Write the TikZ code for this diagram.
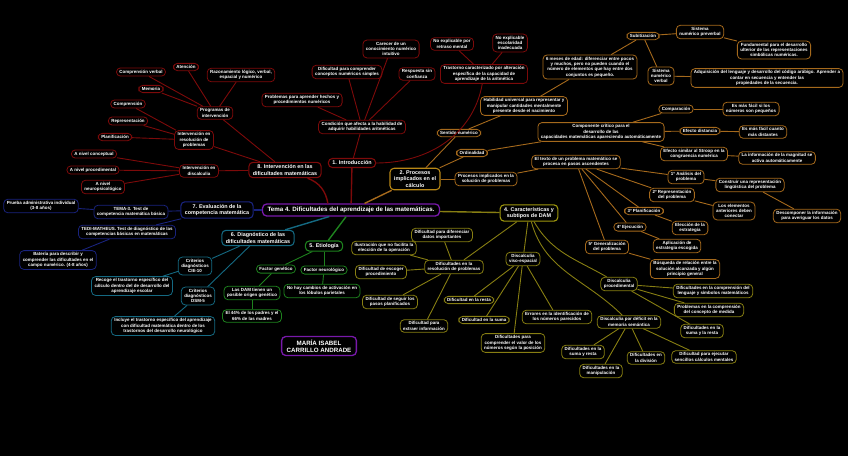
\documentclass[tikz,border=0pt]{standalone}
\usepackage{fontspec}
\setmainfont{Liberation Sans}
\definecolor{mapred}{RGB}{125, 10, 10}
\definecolor{maporange}{RGB}{165, 105, 28}
\definecolor{mapyellow}{RGB}{135, 126, 18}
\definecolor{mapgreen}{RGB}{30, 130, 30}
\definecolor{mapteal}{RGB}{20, 105, 130}
\definecolor{mapblue}{RGB}{25, 35, 125}
\definecolor{mappurple}{RGB}{120, 25, 170}

\begin{document}
\begin{tikzpicture}[
    x=1pt, y=-1pt,
    leaf/.style={rectangle, rounded corners=4pt, fill=black, text=white, align=center, inner xsep=3pt, inner ysep=2pt, line width=0.8pt, font=\fontsize{4.45}{5.3}\selectfont\bfseries},
    branch/.style={leaf, line width=1.1pt, inner xsep=4pt, inner ysep=2.5pt, font=\fontsize{5.4}{6.3}\selectfont\bfseries},
    redleaf/.style={leaf, draw=mapred},
    orangeleaf/.style={leaf, draw=maporange},
    yellowleaf/.style={leaf, draw=mapyellow},
    greenleaf/.style={leaf, draw=mapgreen},
    tealleaf/.style={leaf, draw=mapteal},
    blueleaf/.style={leaf, draw=mapblue},
    redbranch/.style={branch, draw=mapred},
    orangebranch/.style={branch, draw=maporange!80!yellow},
    yellowbranch/.style={branch, draw=mapyellow!80!yellow},
    greenbranch/.style={branch, draw=mapgreen},
    tealbranch/.style={branch, draw=mapteal},
    bluebranch/.style={branch, draw=mapblue},
    topic/.style={leaf, draw=mappurple, line width=1.3pt, inner xsep=5pt, inner ysep=3pt, font=\fontsize{6.2}{7.3}\selectfont\bfseries},
    redline/.style={mapred, line width=0.9pt},
    orangeline/.style={maporange, line width=0.9pt},
    yellowline/.style={mapyellow, line width=0.9pt},
    greenline/.style={mapgreen, line width=0.9pt},
    tealline/.style={mapteal, line width=0.9pt},
    blueline/.style={mapblue, line width=0.9pt},
    mainline/.style={line width=1.4pt}
]

\fill[black] (0,0) rectangle (848,456);
\useasboundingbox (0,0) rectangle (848,456);

% centre
\node (tema) [topic] at (351,210) {Tema 4. Dificultades del aprendizaje de las matemáticas.};
\node (autora) [topic] at (319,346) {MARÍA ISABEL\\CARRILLO ANDRADE};

% 1. Introducción
\node (intro) [redbranch] at (352,163) {1. Introducción};
\node (condicion) [redleaf] at (362,127) {Condición que afecta a la habilidad de\\adquirir habilidades aritméticas};
\node (hechos) [redleaf] at (302,100) {Problemas para aprender hechos y\\procedimientos numéricos};
\node (difcomp) [redleaf] at (347,72) {Dificultad para comprender\\conceptos numéricos simples};
\node (carecer) [redleaf] at (391,49) {Carecer de un\\conocimiento numérico\\intuitivo};
\node (respuesta) [redleaf] at (417,74) {Respuesta sin\\confianza};
\node (trastorno) [redleaf] at (484,74) {Trastorno caracterizado por alteración\\específica de la capacidad de\\aprendizaje de la aritmética};
\node (noretraso) [redleaf] at (452,44) {No explicable por\\retraso mental};
\node (noescolar) [redleaf] at (510,43) {No explicable\\escolaridad\\inadecuada};

% 8. Intervención
\node (interv) [redbranch] at (285,170) {8. Intervención en las\\dificultades matemáticas};
\node (programas) [redleaf] at (215,113) {Programas de\\intervención};
\node (compverbal) [redleaf] at (141,72) {Comprensión verbal};
\node (atencion) [redleaf] at (186,67) {Atención};
\node (razon) [redleaf] at (241,75) {Razonamiento lógico, verbal,\\espacial y numérico};
\node (memoria) [redleaf] at (151,89) {Memoria};
\node (intresol) [redleaf] at (194,140) {Intervención en\\resolución de\\problemas};
\node (compren) [redleaf] at (128,104) {Comprensión};
\node (repres) [redleaf] at (128,121) {Representación};
\node (planif) [redleaf] at (115,137) {Planificación};
\node (intdisc) [redleaf] at (199,171) {Intervención en\\discalculia};
\node (concept) [redleaf] at (94,154) {A nivel conceptual};
\node (procedim) [redleaf] at (93,170) {A nivel procedimental};
\node (neuro) [redleaf] at (103,187) {A nivel\\neuropsicológico};

% 2. Procesos implicados en el cálculo
\node (procesos) [orangebranch] at (415,179) {2. Procesos\\implicados en el\\cálculo};
\node (sentido) [orangeleaf] at (459,133) {Sentido numérico};
\node (ordinal) [orangeleaf] at (472,153) {Ordinalidad};
\node (procsol) [orangeleaf] at (486,179) {Procesos implicados en la\\solución de problemas};
\node (habilidad) [orangeleaf] at (524,106) {Habilidad universal para representar y\\manipular cantidades mentalmente\\presente desde el nacimiento};
\node (meses) [orangeleaf] at (590,67) {6 meses de edad: diferenciar entre pocos\\y muchos, pero no pueden cuando el\\número de elementos que hay entre dos\\conjuntos es pequeño.};
\node (subit) [orangeleaf] at (643,36) {Subitización};
\node (preverbal) [orangeleaf] at (700,32) {Sistema\\numérico preverbal};
\node (fundamental) [orangeleaf] at (774,50) {Fundamental para el desarrollo\\ulterior de las representaciones\\simbólicas numéricas.};
\node (sisverbal) [orangeleaf] at (661,76) {Sistema\\numérico\\verbal};
\node (adquis) [orangeleaf] at (767,78) {Adquisición del lenguaje y desarrollo del código arábigo. Aprender a\\contar en secuencia y entender las\\propiedades de la secuencia.};
\node (componente) [orangeleaf] at (601,132) {Componente crítico para el\\desarrollo de las\\capacidades matemáticas apareciendo automáticamente};
\node (comparacion) [orangeleaf] at (676,109) {Comparación};
\node (pequenos) [orangeleaf] at (751,109) {Es más fácil si los\\números son pequeños};
\node (distancia) [orangeleaf] at (700,131) {Efecto distancia};
\node (distantes) [orangeleaf] at (763,132) {Es más fácil cuanto\\más distantes};
\node (stroop) [orangeleaf] at (694,154) {Efecto similar al Stroop en la\\congruencia numérica};
\node (magnitud) [orangeleaf] at (777,158) {La información de la magnitud se\\activa automáticamente};
\node (texto) [orangeleaf] at (576,162) {El texto de un problema matemático se\\procesa en pasos ascendentes};
\node (analisis) [orangeleaf] at (686,177) {1º Análisis del\\problema};
\node (construir) [orangeleaf] at (750,185) {Construir una representación\\lingüística del problema};
\node (represent) [orangeleaf] at (672,195) {2º Representación\\del problema};
\node (elementos) [orangeleaf] at (734,211) {Los elementos\\anteriores deben\\conectar};
\node (descomp) [orangeleaf] at (807,216) {Descomponer la información\\para averiguar los datos};
\node (planific) [orangeleaf] at (644,211) {3º Planificación};
\node (eleccion) [orangeleaf] at (690,228) {Elección de la\\estrategia};
\node (ejecucion) [orangeleaf] at (630,227) {4º Ejecución};
\node (aplicacion) [orangeleaf] at (677,246) {Aplicación de\\estrategia escogida};
\node (generaliz) [orangeleaf] at (607,247) {5º Generalización\\del problema};
\node (busqueda) [orangeleaf] at (685,269) {Búsqueda de relación entre la\\solución alcanzada y algún\\principio general};

% 4. Características y subtipos de DAM
\node (subtipos) [yellowbranch] at (529,213) {4. Características y\\subtipos de DAM};
\node (resol) [yellowleaf] at (454,267) {Dificultades en la\\resolución de problemas};
\node (difdatos) [yellowleaf] at (442,235) {Dificultad para diferenciar\\datos importantes};
\node (ilustr) [yellowleaf] at (384,248) {Ilustración que no facilita la\\elección de la operación};
\node (escoger) [yellowleaf] at (381,272) {Dificultad de escoger\\procedimiento};
\node (seguir) [yellowleaf] at (390,302) {Dificultad de seguir los\\pasos planificados};
\node (extraer) [yellowleaf] at (424,326) {Dificultad para\\extraer información};
\node (viso) [yellowleaf] at (523,259) {Discalculia\\viso-espacial};
\node (resta) [yellowleaf] at (469,300) {Dificultad en la resta};
\node (suma) [yellowleaf] at (484,320) {Dificultad en la suma};
\node (errores) [yellowleaf] at (557,317) {Errores en la identificación de\\los números parecidos};
\node (valor) [yellowleaf] at (513,343) {Dificultades para\\comprender el valor de los\\números según la posición};
\node (proced) [yellowleaf] at (619,284) {Discalculia\\procedimental};
\node (lenguaje) [yellowleaf] at (713,291) {Dificultades en la comprensión del\\lenguaje y símbolos matemáticos};
\node (medida) [yellowleaf] at (709,310) {Problemas en la comprensión\\del concepto de medida};
\node (sumalaresta) [yellowleaf] at (702,331) {Dificultades en la\\suma y la resta};
\node (semantica) [yellowleaf] at (629,322) {Discalculia por déficit en la\\memoria semántica};
\node (sumaresta) [yellowleaf] at (583,352) {Dificultades en la\\suma y resta};
\node (division) [yellowleaf] at (646,358) {Dificultades en\\la división};
\node (mentales) [yellowleaf] at (704,357) {Dificultad para ejecutar\\sencillos cálculos mentales};
\node (manip) [yellowleaf] at (601,371) {Dificultades en la\\manipulación};

% 5. Etiología
\node (etiologia) [greenbranch] at (324,246) {5. Etiología};
\node (genetico) [greenleaf] at (276,269) {Factor genético};
\node (neurol) [greenleaf] at (324,270) {Factor neurológico};
\node (origen) [greenleaf] at (252,293) {Las DAM tienen un\\posible origen genético};
\node (lobulos) [greenleaf] at (322,291) {No hay cambios de activación en\\los lóbulos parietales};
\node (padres) [greenleaf] at (252,316) {El 44\% de los padres y el\\66\% de las madres};

% 6. Diagnóstico
\node (diagnostico) [tealbranch] at (258,238) {6. Diagnóstico de las\\dificultades matemáticas};
\node (cie) [tealleaf] at (195,266) {Criterios\\diagnósticos\\CIE-10};
\node (recoge) [tealleaf] at (132,286) {Recoge el trastorno específico del\\cálculo dentro del de desarrollo del\\aprendizaje escolar};
\node (dsm) [tealleaf] at (198,296) {Criterios\\diagnósticos\\DSM-5};
\node (incluye) [tealleaf] at (163,326) {Incluye el trastorno específico del aprendizaje\\con dificultad matemática dentro de los\\trastornos del desarrollo neurológico};

% 7. Evaluación
\node (evaluacion) [bluebranch] at (217,210) {7. Evaluación de la\\competencia matemática};
\node (tema3) [blueleaf] at (131,212) {TEMA-3. Test de\\competencia matemática básica};
\node (prueba) [blueleaf] at (41,206) {Prueba administrativa individual\\(3-8 años)};
\node (tedi) [blueleaf] at (127,232) {TEDI-MATHEUS. Test de diagnóstico de las\\competencias básicas en matemáticas};
\node (bateria) [blueleaf] at (58,260) {Batería para describir y\\comprender las dificultades en el\\campo numérico. (4-8 años)};

% main branches
\draw[redline, mainline] (tema) -- (intro);
\draw[redline, mainline] (tema.north west) ++(66,0) to[out=100,in=-20] (interv);
\draw[orangeline, mainline] (tema) -- (procesos);
\draw[yellowline, mainline] (tema) -- (subtipos);
\draw[greenline, mainline] (tema) -- (etiologia);
\draw[tealline, mainline] (tema) -- (diagnostico);
\draw[blueline, mainline] (tema) -- (evaluacion);

% 1
\draw[redline] (intro) -- (condicion);
\draw[redline] (intro) to[out=0,in=-100] (trastorno);
\draw[redline] (condicion) -- (hechos);
\draw[redline] (condicion) -- (difcomp);
\draw[redline] (condicion) -- (carecer);
\draw[redline] (condicion) -- (respuesta);
\draw[redline] (trastorno) -- (noretraso);
\draw[redline] (trastorno) -- (noescolar);

% 8
\draw[redline] (interv) -- (programas);
\draw[redline] (interv) -- (intresol);
\draw[redline] (interv) -- (intdisc);
\draw[redline] (programas) -- (compverbal);
\draw[redline] (programas) -- (atencion);
\draw[redline] (programas) -- (razon);
\draw[redline] (programas) -- (memoria);
\draw[redline] (intresol) -- (compren);
\draw[redline] (intresol) -- (repres);
\draw[redline] (intresol) -- (planif);
\draw[redline] (intdisc) -- (concept);
\draw[redline] (intdisc) -- (procedim);
\draw[redline] (intdisc) -- (neuro);

% 2
\draw[orangeline] (procesos) -- (sentido);
\draw[orangeline] (procesos) -- (ordinal);
\draw[orangeline] (procesos) -- (procsol);
\draw[orangeline] (sentido) -- (habilidad);
\draw[orangeline] (habilidad) -- (meses);
\draw[orangeline] (meses) -- (subit);
\draw[orangeline] (subit) -- (preverbal);
\draw[orangeline] (subit) -- (sisverbal);
\draw[orangeline] (preverbal) -- (fundamental);
\draw[orangeline] (sisverbal) -- (adquis);
\draw[orangeline] (ordinal) -- (componente);
\draw[orangeline] (componente) -- (comparacion);
\draw[orangeline] (componente) -- (distancia);
\draw[orangeline] (componente) -- (stroop);
\draw[orangeline] (comparacion) -- (pequenos);
\draw[orangeline] (distancia) -- (distantes);
\draw[orangeline] (stroop) -- (magnitud);
\draw[orangeline] (procsol) -- (texto);
\draw[orangeline] (texto) -- (analisis);
\draw[orangeline] (texto) -- (represent);
\draw[orangeline] (texto) -- (planific);
\draw[orangeline] (texto) -- (ejecucion);
\draw[orangeline] (texto) -- (generaliz);
\draw[orangeline] (analisis) -- (construir);
\draw[orangeline] (construir) -- (descomp);
\draw[orangeline] (represent) -- (elementos);
\draw[orangeline] (planific) -- (eleccion);
\draw[orangeline] (ejecucion) -- (aplicacion);
\draw[orangeline] (generaliz) -- (busqueda);

% 4
\draw[yellowline] (subtipos) -- (resol);
\draw[yellowline] (subtipos) -- (viso);
\draw[yellowline] (subtipos) to[out=-60,in=150] (proced);
\draw[yellowline] (subtipos) to[out=-75,in=135] (semantica);
\draw[yellowline] (resol) -- (difdatos);
\draw[yellowline] (resol) -- (ilustr);
\draw[yellowline] (resol) -- (escoger);
\draw[yellowline] (resol) -- (seguir);
\draw[yellowline] (resol) -- (extraer);
\draw[yellowline] (viso) -- (resta);
\draw[yellowline] (viso) -- (suma);
\draw[yellowline] (viso) -- (errores);
\draw[yellowline] (viso) -- (valor);
\draw[yellowline] (proced) -- (lenguaje);
\draw[yellowline] (proced) -- (medida);
\draw[yellowline] (proced) -- (sumalaresta);
\draw[yellowline] (semantica) -- (sumaresta);
\draw[yellowline] (semantica) -- (manip);
\draw[yellowline] (semantica) -- (division);
\draw[yellowline] (semantica) -- (mentales);

% 5
\draw[greenline] (etiologia) -- (genetico);
\draw[greenline] (etiologia) -- (neurol);
\draw[greenline] (genetico) -- (origen);
\draw[greenline] (origen) -- (padres);
\draw[greenline] (neurol) -- (lobulos);

% 6
\draw[tealline] (diagnostico) -- (cie);
\draw[tealline] (diagnostico) -- (dsm);
\draw[tealline] (cie) -- (recoge);
\draw[tealline] (dsm) -- (incluye);

% 7
\draw[blueline] (evaluacion) -- (tema3);
\draw[blueline] (evaluacion) -- (tedi);
\draw[blueline] (tema3) -- (prueba);
\draw[blueline] (tedi) -- (bateria);

\end{tikzpicture}
\end{document}
